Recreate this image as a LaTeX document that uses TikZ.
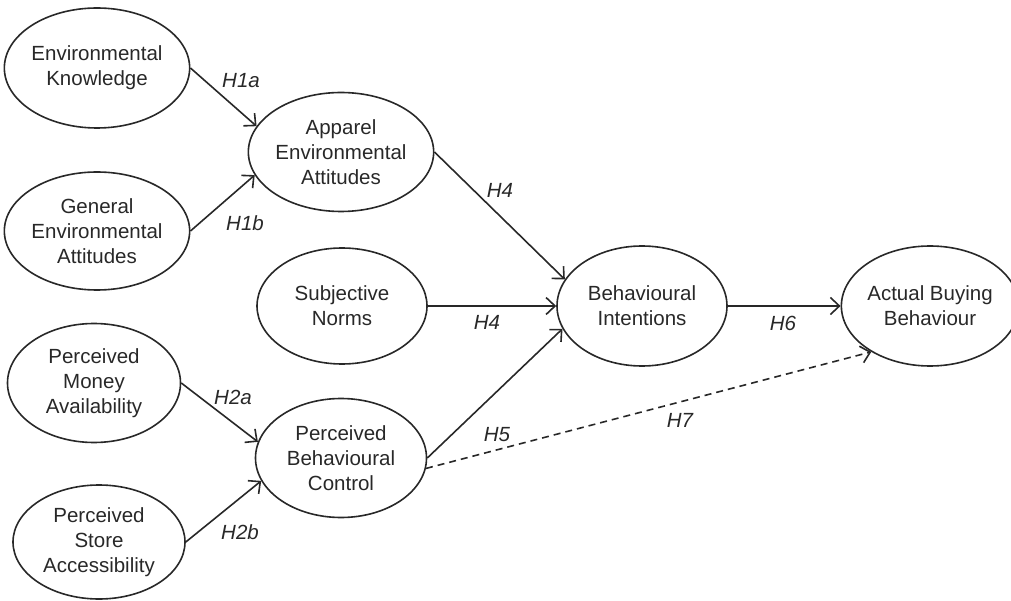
\documentclass[tikz,border=0pt]{standalone}
\usepackage{fontspec}
\setmainfont{Liberation Sans}
\usetikzlibrary{shapes.geometric,arrows.meta}
\definecolor{ink}{RGB}{40,40,40}
\tikzset{
  construct/.style={ellipse, draw=ink, line width=1.6pt, inner sep=0pt, align=center,
    text=ink, font=\fontsize{20.5}{25}\selectfont},
  hyp/.style={text=ink, font=\fontsize{20.5}{25}\selectfont\itshape, inner sep=0pt},
  link/.style={draw=ink, line width=1.6pt, -{Straight Barb[length=9pt,width=17pt,line width=1.6pt]}},
  dlink/.style={link, dash pattern=on 7pt off 5pt}
}
\begin{document}
\begin{tikzpicture}[x=1pt,y=-1pt]
\useasboundingbox (0,0) rectangle (1011,601);
\node[construct, minimum width=171pt, minimum height=120pt] (ek)  at (97,68)  {Environmental\\Knowledge};
\node[construct, minimum width=171pt, minimum height=118pt] (gea) at (97,231) {General\\Environmental\\Attitudes};
\node[construct, minimum width=172pt, minimum height=119pt] (aea) at (341,152) {Apparel\\Environmental\\Attitudes};
\node[construct, minimum width=170pt, minimum height=116pt] (sn)  at (342,306) {Subjective\\Norms};
\node[construct, minimum width=173pt, minimum height=119pt] (pma) at (94,383) {Perceived\\Money\\Availability};
\node[construct, minimum width=171pt, minimum height=119pt] (pbc) at (341,458) {Perceived\\Behavioural\\Control};
\node[construct, minimum width=172pt, minimum height=114pt] (psa) at (99,542) {Perceived\\Store\\Accessibility};
\node[construct, minimum width=170pt, minimum height=120pt] (bi)  at (642,306) {Behavioural\\Intentions};
\node[construct, minimum width=159pt, minimum height=120pt] (abb) at (930,306) {Actual Buying\\Behaviour};

\draw[link] (ek.east) -- (aea.163);
\draw[link] (gea.east) -- (aea.195);
\draw[link] (pma.east) -- (pbc.169);
\draw[link] (psa.east) -- (pbc.196);
\draw[link] (aea.east) -- (bi.161);
\draw[link] (sn.east) -- (bi.west);
\draw[link] (pbc.east) -- (bi.196);
\draw[link] (bi.east) -- (abb.west);
\draw[dlink] (pbc.-7) -- (abb.218);

\node[hyp] (h1a) at (241,81) {H1a};
\node[hyp] (h1b) at (245,223) {H1b};
\node[hyp] (h2a) at (233,397) {H2a};
\node[hyp] (h2b) at (240,532) {H2b};
\node[hyp] (h4a) at (500,190) {H4};
\node[hyp] (h4b) at (487,322) {H4};
\node[hyp] (h5)  at (497,435) {H5};
\node[hyp] (h6)  at (783,323) {H6};
\node[hyp] (h7)  at (680,420) {H7};
\end{tikzpicture}
\end{document}
